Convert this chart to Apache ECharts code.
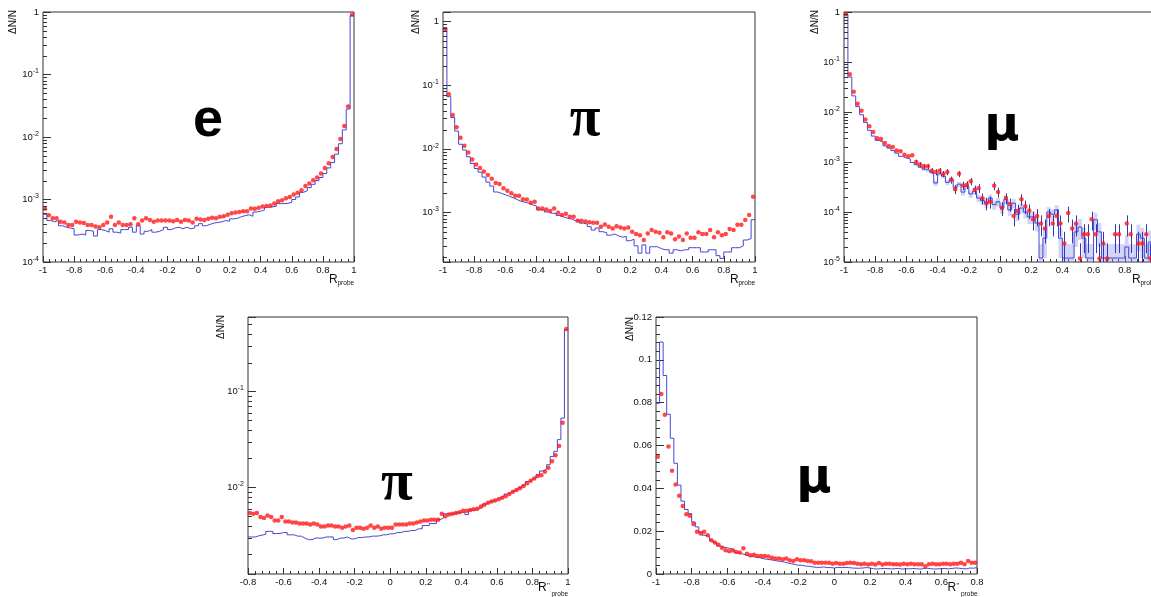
<!DOCTYPE html>
<html><head><meta charset="utf-8">
<script src="https://cdn.jsdelivr.net/npm/echarts@6/dist/echarts.min.js"></script>
<style>html,body{margin:0;padding:0;background:#fff}#c{width:1151px;height:597px}</style>
</head><body><div id="c"></div>
<script>
// ---------- data ----------
// panel 1: e, 80 bins on [-1,1]
const eRed = [7.2e-4,5.6e-4,5.0e-4,5.0e-4,4.4e-4,4.3e-4,3.9e-4,3.9e-4,4.4e-4,4.3e-4,
  4.2e-4,3.9e-4,3.9e-4,3.7e-4,3.6e-4,3.9e-4,4.3e-4,5.3e-4,3.9e-4,4.3e-4,
  3.9e-4,3.9e-4,4.0e-4,5.0e-4,4.0e-4,4.6e-4,5.0e-4,4.7e-4,4.4e-4,4.6e-4,
  4.6e-4,4.6e-4,4.6e-4,4.5e-4,4.7e-4,4.4e-4,4.7e-4,4.6e-4,4.3e-4,4.9e-4,
  4.8e-4,4.7e-4,4.9e-4,5.1e-4,5.0e-4,5.3e-4,5.4e-4,5.7e-4,6.0e-4,6.2e-4,
  6.3e-4,6.5e-4,6.5e-4,7.2e-4,7.1e-4,7.4e-4,7.7e-4,7.9e-4,8.0e-4,8.6e-4,
  9.4e-4,9.7e-4,1.05e-3,1.1e-3,1.2e-3,1.28e-3,1.4e-3,1.64e-3,1.8e-3,2.04e-3,
  2.25e-3,2.6e-3,3.2e-3,3.8e-3,4.8e-3,6.4e-3,9.3e-3,0.015,0.0307,0.9];
const eBlue = [5.8e-4,4.6e-4,4.4e-4,4.6e-4,3.8e-4,3.6e-4,3.5e-4,3.4e-4,2.7e-4,2.8e-4,
  2.7e-4,3.2e-4,3.1e-4,2.6e-4,3.3e-4,3.2e-4,3.0e-4,3.4e-4,3.0e-4,2.9e-4,
  3.3e-4,3.3e-4,3.6e-4,3.0e-4,3.8e-4,2.8e-4,3.1e-4,3.3e-4,3.0e-4,3.1e-4,
  3.3e-4,3.6e-4,3.3e-4,3.5e-4,3.6e-4,3.4e-4,3.6e-4,3.4e-4,3.5e-4,3.8e-4,
  4.1e-4,3.8e-4,4.0e-4,4.2e-4,4.3e-4,4.4e-4,4.6e-4,4.5e-4,4.9e-4,5.0e-4,
  5.3e-4,5.5e-4,5.7e-4,5.4e-4,6.3e-4,6.5e-4,6.8e-4,7.5e-4,7.6e-4,7.8e-4,
  8.6e-4,8.6e-4,8.7e-4,9.0e-4,1.0e-3,1.1e-3,1.3e-3,1.38e-3,1.55e-3,1.75e-3,
  2.0e-3,2.25e-3,2.6e-3,3.2e-3,3.9e-3,5.3e-3,7.8e-3,0.013,0.028,0.88];
// panel 2: pi, 80 bins on [-1,1]
const piRed = [0.76,0.072,0.034,0.0218,0.015,0.0112,0.0088,0.0068,0.0057,0.0050,
  0.0044,0.0039,0.0034,0.0029,0.0028,0.0024,0.0022,0.0020,0.00183,0.00183,
  0.00162,0.0016,0.00142,0.00148,0.00116,0.00116,0.00112,0.00106,0.00116,0.00099,
  0.00091,0.00096,0.00086,0.00086,0.00074,0.00074,0.00072,0.00070,0.00069,0.00069,
  0.000596,0.00065,0.000596,0.00056,0.00061,0.00058,0.00056,0.00058,0.0005,0.00046,
  0.00044,0.00037,0.00047,0.00053,0.0005,0.00048,0.00041,0.00049,0.00047,0.00038,
  0.00042,0.00037,0.00047,0.0004,0.0004,0.00049,0.00046,0.00046,0.00053,0.00041,
  0.00049,0.00044,0.00046,0.00055,0.00053,0.00064,0.00064,0.00076,0.00091,0.00177];
const piBlue = [0.80,0.066,0.031,0.019,0.0118,0.0096,0.0075,0.0059,0.0049,0.0043,
  0.0036,0.0030,0.0026,0.0021,0.0020,0.0019,0.0018,0.0017,0.0016,0.0015,
  0.00145,0.0014,0.00132,0.00126,0.00110,0.00110,0.00102,0.00097,0.00097,0.00090,
  0.00085,0.00081,0.00079,0.00074,0.00076,0.00068,0.00066,0.00060,0.00053,0.00057,
  0.00050,0.00048,0.00044,0.00046,0.00043,0.00041,0.00042,0.00036,0.00038,0.00030,
  0.00023,0.00031,0.00023,0.00029,0.00029,0.00027,0.00026,0.00026,0.00023,0.00026,
  0.00025,0.00026,0.00026,0.00028,0.00028,0.00028,0.00024,0.00024,0.00026,0.00026,
  0.00021,0.00019,0.00024,0.00024,0.00028,0.00028,0.00030,0.00037,0.00039,0.00077];
// panel 3: mu, 80 bins on [-1,1]
const muRed = [0.9,0.057,0.0253,0.0147,0.0106,0.0071,0.0052,0.0040,0.0030,0.0029,
  0.0024,0.0021,0.0020,0.0017,0.00165,0.0014,0.00131,0.00136,0.0010,0.00089,
  0.00082,0.00082,0.00067,0.00063,0.00067,0.00058,0.00063,0.00044,0.000286,0.00058,
  0.00034,0.00035,0.00041,0.00028,0.0003,0.000188,0.00015,0.00016,0.000335,0.00025,
  0.00012,0.00019,0.000144,0.000083,0.000105,0.00018,0.00013,0.000107,0.000072,0.000083,
  0.000059,0.000047,0.000083,0.000059,0.000083,0.000059,0.0000235,0.000095,0.000047,0.000059,
  0.0000118,0.000036,0.000036,0.000072,0.000036,0.0000118,0.0000235,0.0000118,null,0.000036,
  0.000036,null,0.000059,0.000036,null,0.0000235,0.0000235,0.000036,0.0000118,0.0000235];
const muRedRelErr = [0,0,0,0,0,0,0,0,0,0,
  0,0,0,0,0,0,0,0,0.11,0.12,
  0.12,0.12,0.13,0.14,0.13,0.14,0.14,0.16,0.2,0.14,
  0.19,0.18,0.17,0.2,0.2,0.25,0.28,0.27,0.19,0.22,
  0.31,0.25,0.29,0.38,0.33,0.26,0.3,0.33,0.41,0.38,
  0.45,0.5,0.38,0.45,0.38,0.45,0.71,0.35,0.5,0.45,
  1.0,0.58,0.58,0.41,0.58,1.0,0.71,1.0,0,0.58,
  0.58,0,0.45,0.58,0,0.71,0.71,0.58,1.0,0.71];
const muBlue = [0.88,0.050,0.021,0.0128,0.0088,0.0062,0.0043,0.0033,0.0027,0.0025,
  0.0021,0.0019,0.0017,0.0015,0.0013,0.0012,0.00115,0.00098,0.00088,0.00079,
  0.00072,0.00068,0.00062,0.00038,0.00058,0.00052,0.00039,0.00045,0.00031,0.00036,
  0.00025,0.00033,0.00023,0.00026,0.00019,0.00017,0.00015,0.00019,0.00014,0.00016,
  0.00012,0.00018,0.00011,0.00015,0.00009,0.00012,0.00010,0.00008,0.00008,0.00006,
  0.000012,0.00003,0.0001,0.00009,0.00011,0.00003,0.000012,0.000012,0.000012,0.00004,
  0.00005,0.00003,0.000012,0.000012,0.00007,0.00004,0.000012,0.000012,0.000012,0.000012,
  0.000012,0.000012,0.00002,0.000012,0.000012,0.000036,0.00003,0.000012,0.000025,0.000012];
const muBlueRelErr = [0,0,0,0,0,0,0,0,0,0,
  0,0,0,0,0,0,0,0,0,0.05,
  0.08,0.08,0.09,0.12,0.09,0.1,0.12,0.11,0.13,0.12,
  0.15,0.13,0.16,0.15,0.17,0.18,0.2,0.18,0.21,0.2,
  0.23,0.19,0.24,0.21,0.27,0.23,0.25,0.28,0.28,0.32,
  0.9,0.6,0.25,0.27,0.24,0.6,0.9,0.9,0.9,0.5,
  0.45,0.6,0.9,0.9,0.38,0.5,0.9,0.9,0.9,0.9,
  0.9,0.9,0.7,0.9,0.9,0.55,0.6,0.9,0.7,0.9];
// panel 4: pi vs R''probe, 90 bins on [-0.8,1]
const piRRed = [0.0054,0.0053,0.0054,0.0049,0.0048,0.0051,0.0049,0.0045,0.0045,0.0049,
  0.0044,0.0044,0.0043,0.0043,0.0042,0.0042,0.0042,0.0041,0.0042,0.0041,
  0.0039,0.0039,0.0040,0.0040,0.0039,0.0039,0.0038,0.0039,0.0040,0.0036,
  0.0038,0.0038,0.0037,0.0038,0.0040,0.0038,0.0039,0.0037,0.0038,0.0038,
  0.0038,0.0041,0.0041,0.0041,0.0041,0.0042,0.0042,0.0043,0.0044,0.0045,
  0.0045,0.0046,0.0046,0.0046,0.0053,0.0050,0.0052,0.0053,0.0054,0.0055,
  0.0057,0.0057,0.0058,0.0059,0.0060,0.0063,0.0066,0.0069,0.0071,0.0073,
  0.0075,0.0078,0.0081,0.0085,0.0090,0.0094,0.0098,0.0103,0.0110,0.0117,
  0.0124,0.0131,0.0134,0.0145,0.0160,0.0187,0.0216,0.027,0.047,0.446];
const piRBlue = [0.00304,0.00304,0.00312,0.00318,0.00325,0.00348,0.00348,0.00330,0.00331,0.00338,
  0.00338,0.0032,0.0032,0.0031,0.0031,0.00296,0.00285,0.00285,0.00296,0.00296,
  0.00296,0.00304,0.00304,0.00304,0.00285,0.00296,0.00296,0.00304,0.0029,0.0029,
  0.0030,0.0030,0.00304,0.00304,0.0031,0.0031,0.00312,0.0032,0.0032,0.00328,
  0.00328,0.00338,0.00338,0.00348,0.00348,0.00355,0.00355,0.0037,0.0037,0.0040,
  0.0040,0.0042,0.0042,0.0046,0.0048,0.0053,0.0053,0.0053,0.0055,0.0055,
  0.0055,0.0052,0.0058,0.0058,0.0060,0.0062,0.0067,0.0070,0.0072,0.0075,
  0.0078,0.0081,0.0085,0.0088,0.0092,0.0095,0.0100,0.0105,0.0115,0.0120,
  0.0125,0.0135,0.0148,0.0155,0.0172,0.0210,0.0237,0.0314,0.0527,0.44];
// panel 5: mu vs R''probe, 90 bins on [-1,0.8]
const muRRed = [0.0548,0.084,0.0743,0.0595,0.0482,0.0418,0.0365,0.0317,0.0279,0.0272,
  0.0233,0.0197,0.0189,0.0197,0.0181,0.0158,0.0147,0.0137,0.0122,0.0111,
  0.0106,0.0110,0.0103,0.0100,0.0120,0.0095,0.0087,0.0090,0.0084,0.0084,
  0.0084,0.0082,0.0076,0.0072,0.0072,0.0069,0.0072,0.0064,0.0061,0.0069,
  0.0064,0.0064,0.0061,0.0059,0.0053,0.0053,0.0053,0.0053,0.0053,0.0048,
  0.0051,0.0048,0.0048,0.0051,0.0053,0.0051,0.0048,0.0045,0.0048,0.0044,
  0.0048,0.0044,0.0051,0.0044,0.0048,0.0048,0.0045,0.0045,0.0044,0.0048,
  0.0045,0.0048,0.0045,0.0045,0.0045,0.0036,0.0045,0.0048,0.0045,0.0045,
  0.0048,0.0048,0.0045,0.0048,0.0048,0.0053,0.0045,0.0061,0.0053,0.0053];
const muRBlue = [0.0797,0.1083,0.0927,0.0746,0.0634,0.0517,0.0415,0.034,0.0301,0.0282,
  0.0243,0.022,0.0197,0.0181,0.0176,0.0158,0.0147,0.0131,0.0126,0.0122,
  0.0119,0.0114,0.0100,0.0095,0.0090,0.0084,0.0082,0.0078,0.0076,0.0072,
  0.0069,0.0067,0.0064,0.0061,0.0059,0.0056,0.0051,0.0048,0.0044,0.0041,
  0.0041,0.0037,0.0036,0.0033,0.0031,0.0031,0.0033,0.0030,0.0030,0.0028,
  0.0031,0.0030,0.0031,0.0030,0.0028,0.0027,0.0027,0.0028,0.0030,0.0028,
  0.0025,0.0023,0.0025,0.0026,0.0025,0.0024,0.0025,0.0026,0.0023,0.0025,
  0.0024,0.0026,0.0025,0.0023,0.0025,0.0027,0.0025,0.0023,0.0024,0.0025,
  0.0026,0.0024,0.0026,0.0028,0.0027,0.0025,0.0024,0.0028,0.0027,0.0030];

const particleLabels = ['e', 'π', 'μ', 'π', 'μ'];
const yTitle = 'ΔN/N';
const xTitleMain = 'R';
const xTitlePrime = '"';
const xTitleSub = 'probe';

// ---------- layout / style ----------
const RED = '#ff1a1a', BLUE = '#4646d2', AX = '#333', TXT = '#111';
const FONT = 'Liberation Sans';
const panels = [
  {grid:{left:43, top:12, width:311, height:250}, x:[-1,1], y:[1e-4,1], log:true, red:eRed, blue:eBlue},
  {grid:{left:443, top:12, width:312, height:250}, x:[-1,1], y:[1.67e-4,1.41], log:true, red:piRed, blue:piBlue},
  {grid:{left:844, top:12, width:312, height:250}, x:[-1,1], y:[1e-5,1], log:true, red:muRed, blue:muBlue, redErr:muRedRelErr, blueErr:muBlueRelErr},
  {grid:{left:248, top:317, width:320, height:257}, x:[-0.8,1], y:[1.25e-3,0.596], log:true, red:piRRed, blue:piRBlue},
  {grid:{left:656, top:317, width:321, height:257}, x:[-1,0.8], y:[0,0.12], log:false, yInterval:0.02, red:muRRed, blue:muRBlue}
];

const grids = [], xAxes = [], yAxes = [], series = [];
panels.forEach((p, k) => {
  grids.push(Object.assign({show:true, borderColor:AX, borderWidth:1, containLabel:false, outerBoundsMode:'none'}, p.grid));
  xAxes.push({type:'value', gridIndex:k, min:p.x[0], max:p.x[1], interval:0.2, position:'bottom',
    axisLine:{show:false, onZero:false}, splitLine:{show:false},
    axisTick:{show:true, inside:true, length:6, lineStyle:{color:AX}},
    minorTick:{show:true, splitNumber:5, length:3, lineStyle:{color:AX}},
    axisLabel:{show:true, margin:3, fontSize:9.5, color:TXT, fontFamily:FONT, showMinLabel:true, showMaxLabel:true,
      formatter: v => String(Math.round(v*10)/10)}});
  const ya = {type:p.log?'log':'value', gridIndex:k, min:p.y[0], max:p.y[1], position:'left',
    axisLine:{show:false, onZero:false}, splitLine:{show:false},
    axisTick:{show:true, inside:true, length:8, lineStyle:{color:AX}},
    axisLabel:{show:true, margin:4, fontSize:9.5, color:TXT, fontFamily:FONT, showMinLabel:true, showMaxLabel:true}};
  if (p.log) {
    ya.logBase = 10;
    ya.axisLabel.formatter = v => {
      const l = Math.log10(v), e = Math.round(l);
      if (Math.abs(l - e) > 1e-6) return '';
      if (e === 0) return '1';
      return '{a|10}{b|' + e + '}';
    };
    ya.axisLabel.rich = {a:{fontSize:9.5, color:TXT, fontFamily:FONT},
                         b:{fontSize:7, color:TXT, fontFamily:FONT, padding:[0,0,6,0]}};
  } else {
    ya.interval = p.yInterval;
    ya.minorTick = {show:true, splitNumber:5, length:4, lineStyle:{color:AX}};
    ya.axisLabel.formatter = v => String(Math.round(v*100)/100);
  }
  yAxes.push(ya);

  const n = p.blue.length, w = (p.x[1]-p.x[0]) / n;
  const floor = p.log ? p.y[0]*0.3 : 0;
  const hist = [];
  p.blue.forEach((v, i) => {
    const vv = (v == null || v <= 0) ? floor : v;
    hist.push([p.x[0]+i*w, vv], [p.x[0]+(i+1)*w, vv]);
  });
  const pts = [];
  p.red.forEach((v, i) => { if (v != null) pts.push([p.x[0]+(i+0.5)*w, v]); });

  if (p.blueErr) {
    const band = [];
    p.blue.forEach((v, i) => { if (p.blueErr[i] > 0) band.push([p.x[0]+i*w, v, p.x[0]+(i+1)*w, v*p.blueErr[i]]); });
    series.push({type:'custom', xAxisIndex:k, yAxisIndex:k, data:band, clip:true, z:1, silent:true,
      encode:{x:0, y:1},
      renderItem:(params, api) => {
        const xl = api.value(0), v = api.value(1), xr = api.value(2), e = api.value(3);
        const lo = v - e > 0 ? v - e : p.y[0]*0.01;
        const a = api.coord([xl, v+e]), b = api.coord([xr, lo]);
        return {type:'rect', shape:{x:a[0], y:a[1], width:b[0]-a[0], height:b[1]-a[1]},
          style:{fill:'rgba(140,148,230,0.4)'}};
      }});
  }
  series.push({type:'line', xAxisIndex:k, yAxisIndex:k, data:hist, symbol:'none', showSymbol:false,
    lineStyle:{color:BLUE, width:1}, clip:true, z:3, silent:true, animation:false});
  if (p.redErr) {
    const eb = [];
    p.red.forEach((v, i) => { if (v != null && p.redErr[i] > 0) eb.push([p.x[0]+(i+0.5)*w, v, v*p.redErr[i]]); });
    series.push({type:'custom', xAxisIndex:k, yAxisIndex:k, data:eb, clip:true, z:4, silent:true,
      encode:{x:0, y:1},
      renderItem:(params, api) => {
        const x = api.value(0), v = api.value(1), e = api.value(2);
        const lo = v - e > 0 ? v - e : p.y[0]*0.01;
        const a = api.coord([x, v+e]), b = api.coord([x, lo]);
        const xx = Math.round(a[0]) + 0.5;
        return {type:'line', shape:{x1:xx, y1:a[1], x2:xx, y2:b[1]}, style:{stroke:'#3434b8', lineWidth:1}};
      }});
  }
  series.push({type:'scatter', xAxisIndex:k, yAxisIndex:k, data:pts, symbol:'circle', symbolSize:4.5,
    itemStyle:{color:RED}, z:5, silent:true, animation:false});

  if (p.log) {
    const mt = [];
    for (let e = Math.floor(Math.log10(p.y[0])); e <= Math.ceil(Math.log10(p.y[1])); e++) {
      for (let m = 2; m <= 9; m++) {
        const t = m * Math.pow(10, e);
        if (t > p.y[0] && t < p.y[1]) mt.push([p.x[0], t]);
      }
    }
    series.push({type:'custom', xAxisIndex:k, yAxisIndex:k, data:mt, z:6, silent:true,
      encode:{x:0, y:1},
      renderItem:(params, api) => {
        const c = api.coord([api.value(0), api.value(1)]);
        const yy = Math.round(c[1]) + 0.5;
        return {type:'line', shape:{x1:c[0], y1:yy, x2:c[0]+4, y2:yy}, style:{stroke:AX, lineWidth:1}};
      }});
  }
});

// ---------- text decorations ----------
const graphic = [];
const big = [
  {x:208, y:121, font:'bold', fam:'Liberation Sans', size:54},
  {x:585, y:121, font:'bold', fam:'Liberation Serif', size:56},
  {x:1002, y:128, font:'bold', fam:'DejaVu Sans', size:48},
  {x:397, y:484, font:'bold', fam:'Liberation Serif', size:58},
  {x:814, y:480, font:'bold', fam:'DejaVu Sans', size:48}
];
big.forEach((b, i) => graphic.push({type:'text', x:b.x, y:b.y, z:10, silent:true,
  style:{text:particleLabels[i], fontWeight:b.font, fontFamily:b.fam, fontSize:b.size, fill:'#000', align:'center', verticalAlign:'middle'}}));
[[13.5,10],[416.5,10],[815,10],[221.5,315],[630,317]].forEach(q => graphic.push({type:'text', x:q[0], y:q[1], rotation:Math.PI/2, z:10, silent:true,
  style:{text:yTitle, fontSize:10, fontFamily:FONT, fill:TXT, align:'right', verticalAlign:'middle'}}));
// x titles: R_probe for top row, R''_probe for bottom row
[[329,274],[730,274],[1132,274]].forEach(q => {
  graphic.push({type:'text', x:q[0], y:q[1], silent:true, style:{text:xTitleMain, fontSize:12, fontFamily:FONT, fill:TXT, align:'left', verticalAlign:'top'}});
  graphic.push({type:'text', x:q[0]+8.5, y:q[1]+5.5, silent:true, style:{text:xTitleSub, fontSize:6.5, fontFamily:FONT, fill:TXT, align:'left', verticalAlign:'top'}});
});
[[538,582],[947.5,582]].forEach(q => {
  graphic.push({type:'text', x:q[0], y:q[1], silent:true, style:{text:xTitleMain, fontSize:12, fontFamily:FONT, fill:TXT, align:'left', verticalAlign:'top'}});
  graphic.push({type:'text', x:q[0]+9, y:q[1]-0.5, silent:true, style:{text:xTitlePrime, fontSize:8, fontFamily:FONT, fill:TXT, align:'left', verticalAlign:'top'}});
  graphic.push({type:'text', x:q[0]+13.5, y:q[1]+9, silent:true, style:{text:xTitleSub, fontSize:6.5, fontFamily:FONT, fill:TXT, align:'left', verticalAlign:'top'}});
});

const chart = echarts.init(document.getElementById('c'), null, {renderer:'canvas'});
chart.setOption({
  animation:false,
  backgroundColor:'#fff',
  textStyle:{fontFamily:FONT},
  grid:grids, xAxis:xAxes, yAxis:yAxes, series:series, graphic:graphic
});
</script>
</body></html>
